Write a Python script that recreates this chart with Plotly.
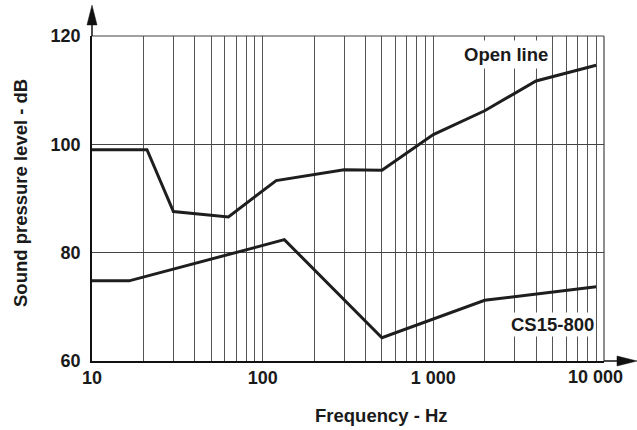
import plotly.graph_objects as go

# Data
open_freq = [10, 21, 30, 63, 120, 300, 500, 1000, 2000, 4000, 9000]
open_db = [99, 99, 87.6, 86.6, 93.3, 95.3, 95.2, 101.8, 106.2, 111.7, 114.6]

cs_freq = [10, 16.5, 134, 500, 2000, 9000]
cs_db = [74.8, 74.8, 82.4, 64.3, 71.2, 73.7]

grid_freqs = [m * 10 ** e for e in range(1, 4) for m in range(1, 10)] + [10000]
major_labels = {10: "10", 100: "100", 1000: "1 000"}
x_ticktext = [major_labels.get(f, "") for f in grid_freqs]
last_label = "10 000"

y_ticks = [60, 80, 100, 120]

FONT = "Liberation Sans, Arial, Helvetica, sans-serif"
LINE_COLOR = "#1e1e1e"
TEXT_COLOR = "#1a1a1a"

fig = go.Figure()
fig.add_trace(go.Scatter(x=open_freq, y=open_db, mode="lines",
                         line=dict(color=LINE_COLOR, width=3), showlegend=False))
fig.add_trace(go.Scatter(x=cs_freq, y=cs_db, mode="lines",
                         line=dict(color=LINE_COLOR, width=3), showlegend=False))

fig.update_layout(
    width=637, height=430,
    margin=dict(l=92, r=33, t=36, b=69, autoexpand=False),
    paper_bgcolor="white", plot_bgcolor="white",
    font=dict(family=FONT, size=18, color=TEXT_COLOR, weight="bold"),
    xaxis=dict(type="log", range=[1, 4.0002], tickvals=grid_freqs, ticktext=x_ticktext,
               showgrid=True, gridcolor="#555555", gridwidth=1,
               showline=True, linecolor="#111111", linewidth=1.5, mirror=False,
               ticks="", ticklabelstandoff=0, zeroline=False, automargin=False,
               tickfont=dict(family=FONT, size=18, weight="bold", color=TEXT_COLOR)),
    yaxis=dict(range=[60, 120], tickvals=y_ticks,
               showgrid=True, gridcolor="#444444", gridwidth=1,
               showline=True, linecolor="#111111", linewidth=1.5,
               ticks="", ticklabelstandoff=6, zeroline=False, automargin=False,
               tickfont=dict(family=FONT, size=18, weight="bold", color=TEXT_COLOR)),
)

# Last x tick label, nudged left of the arrow as in the reference
fig.add_annotation(x=4, y=(361 - 377) / 325, xref="x", yref="paper", text=last_label,
                   showarrow=False, xanchor="center", yanchor="middle", xshift=-8,
                   font=dict(family=FONT, size=18, weight="bold", color=TEXT_COLOR))

# Frame lines on top and right
fig.add_shape(type="line", xref="paper", yref="paper", x0=0, x1=1, y0=1, y1=1,
              line=dict(color="#444444", width=1.2))
fig.add_shape(type="line", xref="paper", yref="paper", x0=1, x1=1, y0=0, y1=1,
              line=dict(color="#444444", width=1.2))

# Axis arrows
fig.add_shape(type="line", xref="paper", yref="paper", x0=0, x1=0, y0=1, y1=1.06,
              line=dict(color="#111111", width=1.5))
fig.add_shape(type="path", xref="paper", yref="paper",
              path="M -0.0098 1.034 L 0 1.095 L 0.0098 1.034 Z",
              fillcolor="#111111", line=dict(color="#111111", width=0.5))
fig.add_shape(type="line", xref="paper", yref="paper", x0=1, x1=1.04, y0=0, y1=0,
              line=dict(color="#111111", width=1.5))
fig.add_shape(type="path", xref="paper", yref="paper",
              path="M 1.0254 0.0154 L 1.0645 0 L 1.0254 -0.0154 Z",
              fillcolor="#111111", line=dict(color="#111111", width=0.5))

# Series labels
fig.add_annotation(x=3.427, y=116.6, xref="x", yref="y", text="Open line",
                   showarrow=False, bgcolor="white", borderpad=3,
                   xanchor="center", yanchor="middle",
                   font=dict(family=FONT, size=18.5, weight="bold", color=TEXT_COLOR))
fig.add_annotation(x=3.699, y=66.8, xref="x", yref="y", text="CS15-800",
                   showarrow=False, bgcolor="white", borderpad=1,
                   xanchor="center", yanchor="middle",
                   font=dict(family=FONT, size=18.5, weight="bold", color=TEXT_COLOR))

# Axis titles
fig.add_annotation(x=(381 - 92) / 512, y=(361 - 415) / 325, xref="paper", yref="paper",
                   text="Frequency - Hz", showarrow=False,
                   xanchor="center", yanchor="middle",
                   font=dict(family=FONT, size=18.5, weight="bold", color=TEXT_COLOR))
fig.add_annotation(x=(20 - 92) / 512, y=(361 - 193) / 325, xref="paper", yref="paper",
                   text="Sound pressure level - dB", showarrow=False, textangle=-90,
                   xanchor="center", yanchor="middle",
                   font=dict(family=FONT, size=18.5, weight="bold", color=TEXT_COLOR))

fig.write_html("out.html", config={"displayModeBar": False},
               post_script="document.body.style.margin='0';document.body.style.padding='0';")
